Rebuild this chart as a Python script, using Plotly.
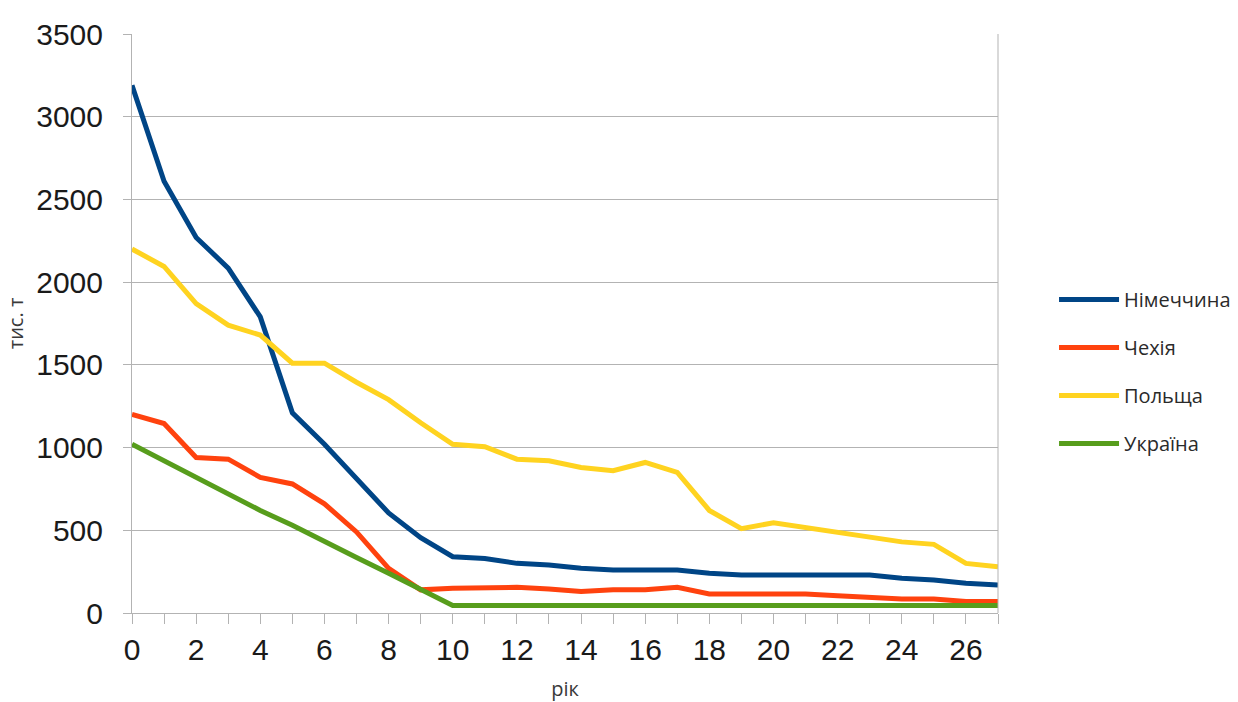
import plotly.graph_objects as go

# Years since the start of the period
years = list(range(28))

# Output, thousand tonnes
germany = [3190, 2610, 2270, 2085, 1790, 1210, 1020, 810, 605, 455, 340, 330, 300, 290, 270, 260, 260, 260,
           240, 230, 230, 230, 230, 230, 210, 200, 180, 170]
czechia = [1200, 1145, 940, 930, 820, 780, 660, 490, 270, 140, 150, 150, 155, 145, 130, 140, 140, 155,
           115, 115, 115, 115, 105, 95, 85, 85, 70, 70]
poland = [2200, 2095, 1870, 1740, 1680, 1510, 1510, 1395, 1290, 1150, 1020, 1005, 930, 920, 880, 860, 910, 850,
          620, 510, 545, 515, 490, 460, 430, 415, 300, 280]
ukraine = [1020, 920, 820, 720, 620, 530, 430, 335, 240, 140, 45, 45, 45, 45, 45, 45, 45, 45,
           45, 45, 45, 45, 45, 45, 45, 45, 45, 45]

series = [
    ("Німеччина", germany, "#004586"),
    ("Чехія", czechia, "#ff420e"),
    ("Польща", poland, "#ffd320"),
    ("Україна", ukraine, "#579d1c"),
]

fig = go.Figure()
for name, values, color in series:
    fig.add_trace(go.Scatter(
        x=years, y=values, name=name, mode="lines",
        line=dict(color=color, width=5),
        legendgroup=name,
    ))

grid_color = "#b3b3b3"
tick_font = dict(family="Liberation Sans, Arial, sans-serif", size=30, color="#1a1a1a")
title_font = dict(family="Open Sans, sans-serif", size=20, color="#3a3a3a")

fig.update_layout(
    width=1238, height=702,
    margin=dict(l=132, r=240, t=34, b=89),
    paper_bgcolor="white", plot_bgcolor="white",
    showlegend=True,
    legend=dict(
        xref="container", yref="container",
        x=0.8514, xanchor="left", y=0.4708, yanchor="middle",
        font=dict(family="Open Sans, sans-serif", size=20, color="#2a2a2a"),
        itemwidth=60, tracegroupgap=19,
        bgcolor="rgba(0,0,0,0)",
    ),
    xaxis=dict(
        range=[0, 27], tickmode="array",
        tickvals=years, ticktext=[str(y) if y % 2 == 0 else "" for y in years],
        ticks="outside", ticklen=10, tickcolor=grid_color, tickwidth=1,
        showgrid=False, showline=True, linecolor=grid_color, linewidth=1,
        mirror=False, zeroline=False, automargin=False,
        tickfont=tick_font,
        title=dict(text="рік", font=title_font, standoff=20),
    ),
    yaxis=dict(
        range=[0, 3500], dtick=500,
        ticks="outside", ticklen=8, tickcolor=grid_color, tickwidth=1,
        ticklabelstandoff=14,
        showgrid=True, gridcolor=grid_color, gridwidth=1,
        showline=True, linecolor=grid_color, linewidth=1, zeroline=False,
        automargin=False,
        tickfont=tick_font,
        title=dict(text="тис. т", font=title_font, standoff=7),
    ),
)

# right border of the plot area
fig.add_shape(type="line", xref="paper", yref="paper", x0=1, x1=1, y0=0, y1=1,
              line=dict(color=grid_color, width=1))

fig.write_html("out.html")
